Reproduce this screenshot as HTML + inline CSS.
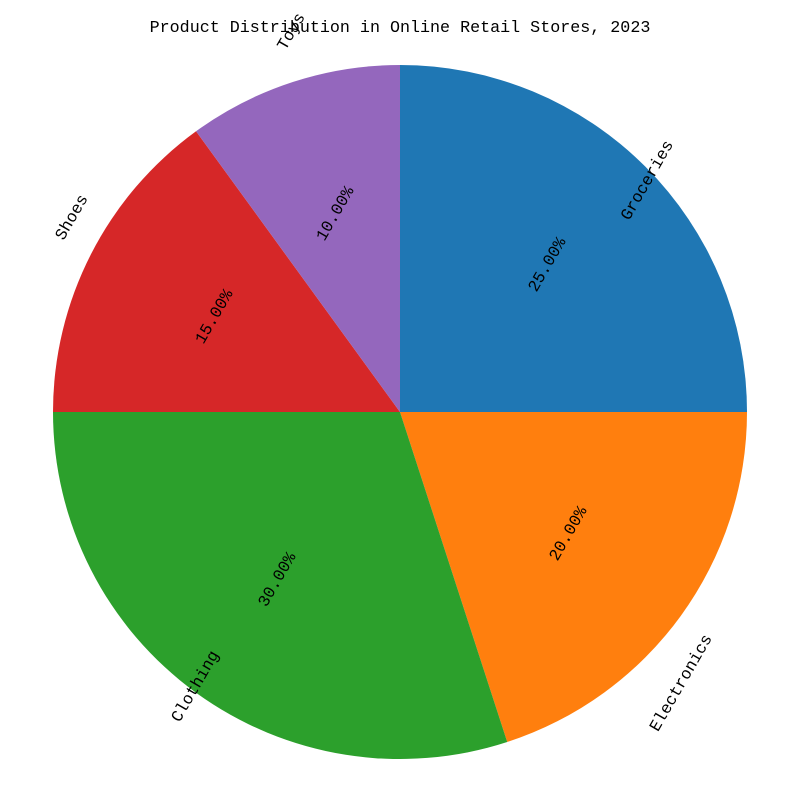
<!DOCTYPE html>
<html><head><meta charset="utf-8"><style>
body{margin:0;background:#fff;}
#wrap{position:relative;width:800px;height:800px;overflow:hidden;font-family:"WenQuanYi Zen Hei Mono","Liberation Mono",monospace;}
.t{position:absolute;font-size:16.5px;color:#000;white-space:nowrap;line-height:20px;}
#title{position:absolute;top:19px;left:0;width:800px;text-align:center;font-size:16.7px;}
</style></head><body>
<div id="wrap">
<svg id="svg" width="800" height="800"></svg>
<div id="title">Product Distribution in Online Retail Stores, 2023</div>
</div>
<script>
const categories=["Groceries","Electronics","Clothing","Shoes","Toys"];
const values=[25,20,30,15,10];
const colors=["#1f77b4","#ff7f0e","#2ca02c","#d62728","#9467bd"];
const cx=400,cy=412,R=347,startAngle=90;
const svg=document.getElementById('svg');
const wrap=document.getElementById('wrap');
const total=values.reduce((a,b)=>a+b,0);
function pt(a,r){const rad=a*Math.PI/180;return [cx+r*Math.cos(rad),cy-r*Math.sin(rad)];}
let a0=startAngle;
values.forEach((v,i)=>{
  const sweep=v/total*360;const a1=a0-sweep;
  const p0=pt(a0,R),p1=pt(a1,R);
  const p=document.createElementNS('http://www.w3.org/2000/svg','path');
  p.setAttribute('d',`M${cx},${cy}L${p0[0]},${p0[1]}A${R},${R} 0 ${sweep>180?1:0} 1 ${p1[0]},${p1[1]}Z`);
  p.setAttribute('fill',colors[i]);
  
  
  svg.appendChild(p);
  const mid=(a0+a1)/2;
  const q=pt(mid,R*0.6);
  const pc=document.createElement('div');
  pc.className='t';pc.textContent=(v/total*100).toFixed(2)+'%';
  
  
  wrap.insertBefore(pc,document.getElementById('title'));
  const w=pc.offsetWidth;
  pc.style.left=(q[0]-w/2)+'px';pc.style.top=(q[1]-10)+'px';pc.style.transform='rotate(-60deg)';
  const l=pt(mid,R*1.1);
  const lb=document.createElement('div');
  lb.className='t';lb.textContent=categories[i];
  
  
  wrap.insertBefore(lb,document.getElementById('title'));
  const lw=lb.offsetWidth;
  if(l[0]>cx){lb.style.left=(l[0]-lw)+'px';lb.style.transformOrigin='right center';}
  else{lb.style.left=l[0]+'px';lb.style.transformOrigin='left center';}
  lb.style.top=(l[1]-10)+'px';lb.style.transform='rotate(-60deg)';
  a0=a1;
});
</script>
</body></html>
